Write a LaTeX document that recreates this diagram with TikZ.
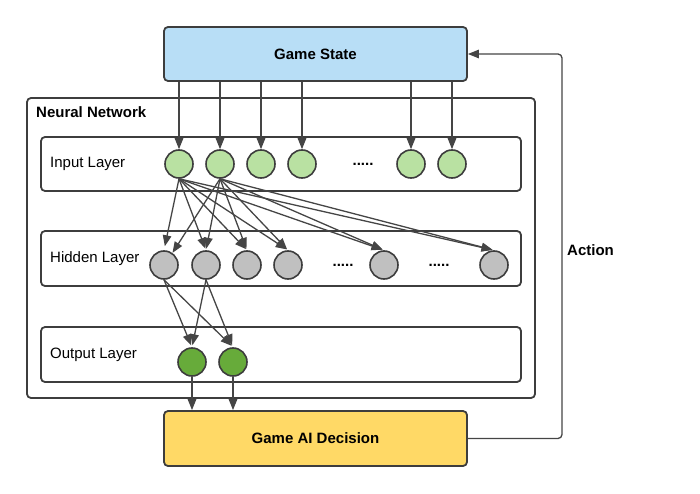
\documentclass[tikz,border=0pt]{standalone}
\usepackage{fontspec}
\setmainfont{Liberation Sans}
\usetikzlibrary{arrows.meta}
\definecolor{strokec}{HTML}{3D3D3D}
\definecolor{edgec}{HTML}{454545}
\definecolor{gsfill}{HTML}{B8DEF6}
\definecolor{gaifill}{HTML}{FFD966}
\definecolor{infill}{HTML}{B9E1A2}
\definecolor{hidfill}{HTML}{C0C0C0}
\definecolor{outfill}{HTML}{67AB3A}
\tikzset{
  box/.style={draw=strokec, line width=1.8pt, rounded corners=4pt, inner sep=0pt, rectangle},
  layerbox/.style={box, minimum width=480pt, minimum height=54pt},
  mainbox/.style={box, minimum width=303pt, minimum height=54pt, font=\fontsize{15}{18}\selectfont\bfseries},
  neuron/.style={circle, draw=strokec, line width=1.6pt, minimum size=28pt, inner sep=0pt},
  inn/.style={neuron, fill=infill},
  hid/.style={neuron, fill=hidfill},
  outn/.style={neuron, fill=outfill},
  lbl/.style={anchor=base west, font=\fontsize{15}{18}\selectfont, inner sep=0pt},
  blbl/.style={anchor=base west, font=\fontsize{15}{18}\selectfont\bfseries, inner sep=0pt},
  dots/.style={font=\fontsize{15}{18}\selectfont\bfseries, inner sep=0pt},
  conn/.style={draw=edgec, line width=1.3pt, -{Triangle[length=11pt,width=8.5pt]}},
}
\begin{document}
\begin{tikzpicture}[x=1pt,y=-1pt]
\useasboundingbox (0,0) rectangle (700,494);
% main boxes
\node[mainbox, fill=gsfill] (gs) at (315.5,54) {Game State};
\node[mainbox, fill=gaifill, minimum height=55pt] (gai) at (315.5,438.5) {Game AI Decision};
\node[box, minimum width=508pt, minimum height=300pt] (nn) at (281,248) {};
\node[blbl] (nnl) at (36,118) {Neural Network};
% layer boxes
\node[layerbox] (inb) at (281,164) {};
\node[layerbox, minimum height=55pt] (hidb) at (281,258.5) {};
\node[layerbox, minimum height=55pt] (outb) at (281,354.5) {};
\node[lbl] (inl) at (50,167.5) {Input Layer};
\node[lbl] (hidl) at (50,262) {Hidden Layer};
\node[lbl] (outl) at (50,358.5) {Output Layer};
% input neurons
\node[inn] (i1) at (179,164) {};
\node[inn] (i2) at (220,164) {};
\node[inn] (i3) at (261,164) {};
\node[inn] (i4) at (302,164) {};
\node[inn] (i5) at (411,164) {};
\node[inn] (i6) at (452,164) {};
\node[dots] (id) at (363,164) {.....};
% hidden neurons
\node[hid] (h1) at (164,265) {};
\node[hid] (h2) at (206,265) {};
\node[hid] (h3) at (247,265) {};
\node[hid] (h4) at (288,265) {};
\node[hid] (h5) at (384,265) {};
\node[hid] (h6) at (494,265) {};
\node[dots] (hd1) at (343,265) {.....};
\node[dots] (hd2) at (439,265) {.....};
% output neurons
\node[outn] (o1) at (192,362) {};
\node[outn] (o2) at (233,362) {};
% game state -> inputs
\foreach \n in {i1,i2,i3,i4,i5,i6}
  \draw[conn] (gs.south -| \n) -- (\n.north);
% inputs -> hidden
\draw[conn, shorten >=4pt] (i1.south) -- (h1.north);
\draw[conn] (i2.south) -- (h1.55);
\foreach \b in {h2,h3,h4,h5,h6}
  \draw[conn, shorten >=1.5pt] (i1.south) -- (\b.north);
\foreach \b in {h2,h3,h4,h5,h6}
  \draw[conn, shorten >=1.5pt] (i2.south) -- (\b.north);
% hidden -> output
\foreach \a in {h1,h2}
  \foreach \b in {o1,o2}
    \draw[conn, shorten >=2pt] (\a.south) -- (\b.north);
% output -> decision
\foreach \n in {o1,o2}
  \draw[conn] (\n.south) -- (\n |- gai.north);
% action loop
\coordinate (loopc) at (562,438.5);
\draw[conn, rounded corners=4pt] (gai.east) -- (loopc) |- (gs.east);
\node[blbl] (act) at (567,255.5) {Action};
\end{tikzpicture}
\end{document}
